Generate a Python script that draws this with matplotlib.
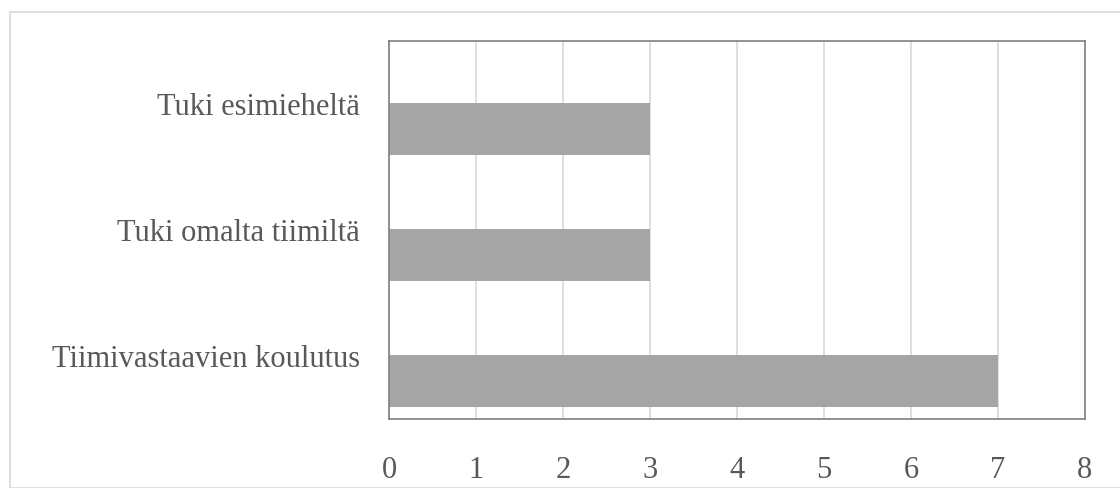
import matplotlib.pyplot as plt
from matplotlib.patches import Rectangle

categories = ['Tiimivastaavien koulutus', 'Tuki omalta tiimiltä', 'Tuki esimieheltä']
values = [7, 3, 3]
xticks = [0, 1, 2, 3, 4, 5, 6, 7, 8]

plt.rcParams['font.family'] = ['Liberation Serif', 'DejaVu Serif']

fig = plt.figure(figsize=(11.2, 4.88), dpi=100)
fig.patches.append(Rectangle((10 / 1120, 0), 1.2, 1 - 12 / 488, transform=fig.transFigure,
                             fill=False, edgecolor='#d9d9d9', lw=1.2))
ax = fig.add_axes([389 / 1120, 1 - 419 / 488, 696 / 1120, 378 / 488])

pos = list(range(len(categories)))
ax.barh(pos, values, height=0.41, color='#a5a5a5', zorder=2)

ax.set_xlim(0, 8)
ax.set_ylim(-0.3, 2.7)
ax.set_xticks(xticks)
ax.set_yticks([p + 0.2 for p in pos])
ax.set_yticklabels(categories)
ax.grid(axis='x', color='#d9d9d9', lw=1.2, zorder=0)
for s in ax.spines.values():
    s.set_color('#808080')
    s.set_linewidth(1.2)
ax.tick_params(length=0, labelsize=22, colors='#595959')
ax.tick_params(axis='x', pad=27)
ax.tick_params(axis='y', pad=21)

fig.savefig('out.png', dpi=100)
